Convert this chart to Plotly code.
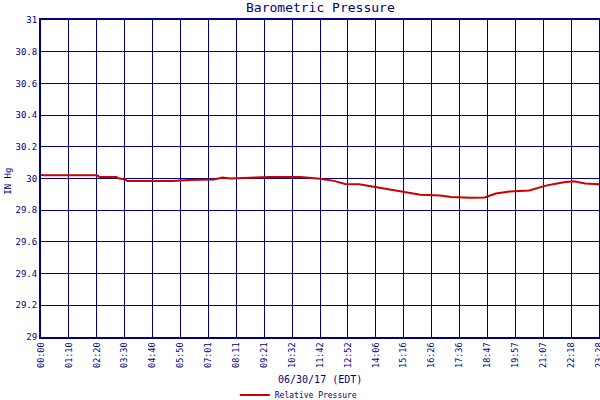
import plotly.graph_objects as go

# sample index (10 samples per labelled tick) and pressure (inHg)
sample_idx = [0, 1, 20, 21, 27, 28, 30, 31, 47, 53, 62, 65, 68, 78, 82, 93, 96, 100,
              105, 109, 114, 120, 125, 129, 136, 143, 147, 154, 159, 163, 168, 175,
              181, 184, 188, 191, 195, 200]
pressure = [30.024, 30.02, 30.02, 30.01, 30.01, 30.0, 29.995, 29.984, 29.984, 29.99,
            29.994, 30.006, 30.0, 30.005, 30.01, 30.01, 30.005, 29.998,
            29.985, 29.966, 29.963, 29.946, 29.93, 29.92, 29.898, 29.893, 29.883,
            29.878, 29.88, 29.905, 29.918, 29.925, 29.955, 29.965, 29.978, 29.982,
            29.968, 29.963]

tick_labels = ["00:00", "01:10", "02:20", "03:30", "04:40", "05:50", "07:01", "08:11",
               "09:21", "10:32", "11:42", "12:52", "14:06", "15:16", "16:26", "17:36",
               "18:47", "19:57", "21:07", "22:18", "23:28"]
tick_pos = [i * 10 for i in range(len(tick_labels))]

y_ticks = [29, 29.2, 29.4, 29.6, 29.8, 30, 30.2, 30.4, 30.6, 30.8, 31]
y_text = ["29", "29.2", "29.4", "29.6", "29.8", "30", "30.2", "30.4", "30.6", "30.8", "31"]

NAVY = "#000080"
FONT = "DejaVu Sans Mono"

fig = go.Figure()
fig.add_trace(go.Scatter(
    x=sample_idx, y=pressure, mode="lines", line=dict(color="#cc0000", width=2),
    name="Relative Pressure"))

fig.update_layout(
    width=600, height=400,
    margin=dict(l=41, r=1, t=20, b=63, autoexpand=False),
    paper_bgcolor="white", plot_bgcolor="white",
    showlegend=True,
    legend=dict(orientation="h", x=0.462, xanchor="center", y=-0.183, yanchor="middle",
                itemwidth=30,
                font=dict(family=FONT, size=8, color=NAVY), bgcolor="rgba(0,0,0,0)"),
    xaxis=dict(range=[0, 200], tickmode="array", tickvals=tick_pos, ticktext=tick_labels,
               tickangle=-90, tickfont=dict(family=FONT, size=8.5, color=NAVY),
               automargin=False, ticklabeloverflow="allow",
               showgrid=True, gridcolor=NAVY, gridwidth=1, zeroline=False,
               showline=True, linecolor=NAVY, linewidth=2, mirror=True, ticks=""),
    yaxis=dict(range=[29, 31], tickmode="array", tickvals=y_ticks, ticktext=y_text,
               tickfont=dict(family=FONT, size=9, color=NAVY), automargin=False,
               showgrid=True, gridcolor=NAVY, gridwidth=1, zeroline=False,
               showline=True, linecolor=NAVY, linewidth=2, mirror=True, ticks=""),
    annotations=[
        dict(text="Barometric Pressure", xref="paper", yref="paper", x=0.5, y=1.038,
             showarrow=False, xanchor="center", yanchor="middle",
             font=dict(family=FONT, size=13, color=NAVY)),
        dict(text="06/30/17 (EDT)", xref="paper", yref="paper", x=0.5, y=-0.1325,
             showarrow=False, xanchor="center", yanchor="middle",
             font=dict(family=FONT, size=10, color=NAVY)),
        dict(text="IN Hg", xref="paper", yref="paper", x=-0.059, y=0.49, textangle=-90,
             showarrow=False, xanchor="center", yanchor="middle",
             font=dict(family=FONT, size=9, color=NAVY)),
    ],
)

fig.write_html("out.html", config={"displayModeBar": False},
               post_script="document.body.style.margin='0';")
